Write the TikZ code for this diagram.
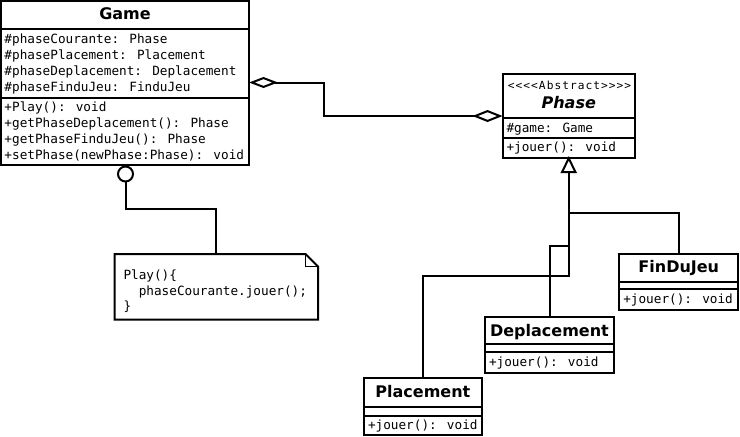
\documentclass[tikz,border=0pt]{standalone}
\usepackage{fontspec}
\setmainfont{DejaVu Sans}
\newfontfamily\monof{DejaVu Sans Mono}
\newfontfamily\stereof[LetterSpace=9]{DejaVu Sans Mono}
\usetikzlibrary{arrows.meta,calc}
\begin{document}
\begin{tikzpicture}[x=1pt,y=-1pt,line width=2pt,
  cls/.style={draw,rectangle,line width=2pt,inner sep=0pt,outer sep=0pt,anchor=north west},
  ttl/.style={anchor=base,inner sep=0pt,font={\fontsize{16}{19}\selectfont\bfseries}},
  ttli/.style={anchor=base,inner sep=0pt,font={\fontsize{16}{19}\selectfont\bfseries\itshape}},
  mem/.style={anchor=base west,inner sep=0pt,font={\monof\fontsize{12.7}{16}\selectfont}},
  stereo/.style={anchor=base,inner sep=0pt,font={\stereof\fontsize{11.2}{13}\selectfont}},
  sep/.style={line width=2pt},
  agg/.style={line width=2pt},
  gen/.style={line width=2pt}]
\useasboundingbox (0,0) rectangle (740,437);

% Game
\node[cls,minimum width=248pt,minimum height=163.5pt] (game) at (1,1) {};
\draw[sep] (game.west |- 0,29) -- (game.east |- 0,29);
\draw[sep] (game.west |- 0,97.5) -- (game.east |- 0,97.5);
\node[ttl] (gt) at (125,19.3) {Game};
\node[mem] (ga1) at (3.5,43.5) {\#phaseCourante: Phase};
\node[mem] (ga2) at (3.5,59.5) {\#phasePlacement: Placement};
\node[mem] (ga3) at (3.5,75.5) {\#phaseDeplacement: Deplacement};
\node[mem] (ga4) at (3.5,91.5) {\#phaseFinduJeu: FinduJeu};
\node[mem] (gm1) at (3.5,111.7) {+Play(): void};
\node[mem] (gm2) at (3.5,127.7) {+getPhaseDeplacement(): Phase};
\node[mem] (gm3) at (3.5,143.7) {+getPhaseFinduJeu(): Phase};
\node[mem] (gm4) at (3.5,159.5) {+setPhase(newPhase:Phase): void};

% Phase
\node[cls,minimum width=132.5pt,minimum height=84.5pt] (phase) at (502.5,73.5) {};
\draw[sep] (phase.west |- 0,118.3) -- (phase.east |- 0,118.3);
\draw[sep] (phase.west |- 0,137.7) -- (phase.east |- 0,137.7);
\node[stereo] (ps) at (569.5,89.3) {<<<<Abstract>>>>};
\node[ttli] (pt) at (568.75,108.3) {Phase};
\node[mem] (pa1) at (505.5,132.3) {\#game: Game};
\node[mem] (pm1) at (505.5,151) {+jouer(): void};

% FinDuJeu
\node[cls,minimum width=119pt,minimum height=55.5pt] (fin) at (619.3,254) {};
\draw[sep] (fin.west |- 0,281.7) -- (fin.east |- 0,281.7);
\draw[sep] (fin.west |- 0,288.5) -- (fin.east |- 0,288.5);
\node[ttl] (ft) at (678.8,272.7) {FinDuJeu};
\node[mem] (fm1) at (622.3,303.5) {+jouer(): void};

% Deplacement
\node[cls,minimum width=129pt,minimum height=55.5pt] (dep) at (485,317) {};
\draw[sep] (dep.west |- 0,344.3) -- (dep.east |- 0,344.3);
\draw[sep] (dep.west |- 0,351.7) -- (dep.east |- 0,351.7);
\node[ttl] (dt) at (549.5,336) {Deplacement};
\node[mem] (dm1) at (488,366.8) {+jouer(): void};

% Placement
\node[cls,minimum width=117.7pt,minimum height=56.5pt] (pla) at (364,378.3) {};
\draw[sep] (pla.west |- 0,407) -- (pla.east |- 0,407);
\draw[sep] (pla.west |- 0,415.7) -- (pla.east |- 0,415.7);
\node[ttl] (plt) at (422.85,397.3) {Placement};
\node[mem] (plm1) at (367,429.5) {+jouer(): void};

% Note
\node[inner sep=0pt,outer sep=0pt,minimum width=203.5pt,minimum height=65.5pt,anchor=north west] (note) at (114.5,254) {};
\draw (note.north west) -- ($(note.north east)+(-12.5,0)$) -- ($(note.north east)+(0,12.5)$) -- (note.south east) -- (note.south west) -- cycle;
\draw[line width=1pt] ($(note.north east)+(-12.5,0)$) |- ($(note.north east)+(0,12.5)$);
\node[mem] (n1) at (122.5,279.3) {Play()\{};
\node[mem] (n2) at (137.8,295) {phaseCourante.jouer();};
\node[mem] (n3) at (122.5,310.5) {\}};

% Ball and dependency to note
\node[circle,draw,line width=2pt,minimum size=15pt,inner sep=0pt,outer sep=0pt] (ball) at (125.5,174) {};
\draw (note.north) |- (ball.south |- 0,209.3) -- (ball.south);

% Aggregation
\draw[agg,{Diamond[open,length=29pt,width=11pt]}-{Diamond[open,length=30pt,width=12pt]}]
  (game.east |- 0,82.5) -- (324,82.5) |- (phase.west |- 0,116);

% Generalization
\draw[gen,-{Triangle[open,length=17pt,width=16pt]}] (pla.north) |- (phase.south |- 0,276) -- ([yshift=2pt]phase.south);
\draw[gen] (dep.north) |- (phase.south |- 0,246);
\draw[gen] (fin.north) |- (phase.south |- 0,213);
\end{tikzpicture}
\end{document}
